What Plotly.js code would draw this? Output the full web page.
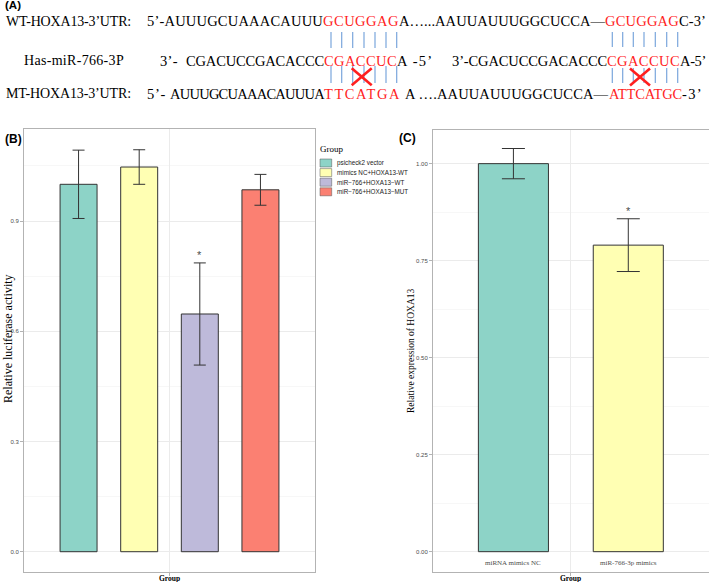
<!DOCTYPE html>
<html><head><meta charset="utf-8">
<script src="https://cdn.plot.ly/plotly-3.0.1.min.js"></script>
<style>html,body{margin:0;padding:0;background:#fff}#chart{width:709px;height:582px}</style>
</head><body><div id="chart"></div>
<script>
// ---------------- data ----------------
const groupsB = ["psicheck2 vector", "mimics NC+HOXA13-WT", "miR\u2212766+HOXA13\u2212WT", "miR\u2212766+HOXA13\u2212MUT"];
const valuesB = [1.000, 1.047, 0.647, 0.985];
const sdB     = [0.093, 0.047, 0.139, 0.042];
const sigB    = ["", "", "*", ""];
const tickValsB = [0, 0.3, 0.6, 0.9];
const tickTextB = ["0.0", "0.3", "0.6", "0.9"];
const minorValsB = [0.15, 0.45, 0.75, 1.05];

const groupsC = ["miRNA mimics NC", "miR-766-3p mimics"];
const valuesC = [1.000, 0.790];
const sdC     = [0.039, 0.068];
const sigC    = ["", "*"];
const tickValsC = [0, 0.25, 0.5, 0.75, 1.0];
const tickTextC = ["0.00", "0.25", "0.50", "0.75", "1.00"];
const minorValsC = [0.125, 0.375, 0.625, 0.875];

const xCategory = ["Group"];

// sequence panel text (segment text, colour key)
const seqLine1 = [["WT-HOXA13-3\u2019UTR:", "k"], ["5\u2019-AUUUGCUAAACAUUU", "k"], ["GCUGGAG", "r"], ["A\u2026...AAUUAUUUGGCUCCA\u2014", "k"], ["GCUGGAG", "r"], ["C-3\u2019", "k"]];
const seqLine2 = [["Has-miR-766-3P", "k"], ["3\u2019-", "k"], ["CGACUCCGACACCC", "k"], ["CGACCUC", "r"], ["A -5\u2019", "k"], ["3\u2019-CGACUCCGACACCC", "k"], ["CGACCUC", "r"], ["A-5\u2019", "k"]];
const seqLine3 = [["MT-HOXA13-3\u2019UTR:", "k"], ["5\u2019-", "k"], ["AUUUGCUAAACAUUUA", "k"], ["TTCATGA", "r"], ["A \u2026.AAUUAUUUGGCUCCA\u2014", "k"], ["ATTCATGC", "r"], ["-3\u2019", "k"]];

// ---------------- styles / layout ----------------
const W = 709, H = 582;
const px = x => x / W, py = y => 1 - y / H;
const barColors = ["#8dd3c7", "#ffffb3", "#bebada", "#fb8072"];
const BARGAP = 0, GROUPGAP = 0.39;
const frameCol = "#b3b3b3", gridCol = "#ebebeb", minorCol = "#f5f5f5", tickFontCol = "#4d4d4d";
const red = "#ff1f1f", blue = "#7aa6dc";

// segment geometry (left edge, right edge in px)
const seg1Pos = [[6, 131], [147, 323], [323, 399], [399, 605], [605, 679], [679, 706]];
const seg2Pos = [[24, 124], [160, 178], [186, 324], [324, 397], [397, 434], [452, 607], [607, 680], [680, 706]];
const seg3Pos = [[6, 131], [147, 166], [170, 324], [324, 401], [405, 609], [609, 682], [682, 703]];
const lineY = [21.4, 60.6, 93.7];

const traces = [];
groupsB.forEach((g, i) => {
  traces.push({
    type: "bar", name: g, x: xCategory, y: [valuesB[i]], xaxis: "x", yaxis: "y",
    marker: {color: barColors[i], line: {color: "#333333", width: 1}},
    error_y: {type: "data", array: [sdB[i]], visible: true, color: "#333333", thickness: 1, width: 6},
    showlegend: false, hoverinfo: "skip"
  });
});
groupsC.forEach((g, i) => {
  traces.push({
    type: "bar", name: g, x: xCategory, y: [valuesC[i]], xaxis: "x2", yaxis: "y2",
    marker: {color: barColors[i], line: {color: "#333333", width: 1}},
    error_y: {type: "data", array: [sdC[i]], visible: true, color: "#333333", thickness: 1, width: 11.5},
    showlegend: false, hoverinfo: "skip"
  });
});

const offsetFor = (i, n) => (i - (n - 1) / 2) * (1 - BARGAP) / n;

const annotations = [];
const shapes = [];

// measure text to fit segments
const cv = document.createElement("canvas").getContext("2d");
function fitted(text, size, target) {
  cv.font = size + "px 'Liberation Serif'";
  const w = cv.measureText(text).width;
  const ls = (target - w) / text.length;
  return '<span style="letter-spacing:' + ls.toFixed(2) + 'px">' + text + '</span>';
}
[[seqLine1, seg1Pos], [seqLine2, seg2Pos], [seqLine3, seg3Pos]].forEach(([segs, pos], li) => {
  segs.forEach(([t, c], si) => {
    const isLabel = si === 0;
    const size = isLabel ? 14 : 14.5;
    annotations.push({
      xref: "paper", yref: "paper", x: px(pos[si][0]), y: py(lineY[li]),
      xanchor: "left", yanchor: "middle", showarrow: false, borderpad: 0, borderwidth: 0,
      text: fitted(t, size, pos[si][1] - pos[si][0]),
      font: {family: "Liberation Serif", size: size, color: c === "r" ? red : "#000000"}
    });
  });
});

// pairing lines and crosses in panel A
const pairX1 = [331, 341.7, 352.7, 364, 375, 386, 396.7];
const pairX2 = [612.3, 622.7, 633.3, 644, 655.3, 666.7, 677.7];
[[pairX1, 32, 48, 66, 83], [pairX2, 32, 47, 68, 83]].forEach(([xs, a0, a1, b0, b1]) => {
  xs.forEach(x => {
    shapes.push({type: "line", xref: "paper", yref: "paper", x0: px(x), x1: px(x), y0: py(a0), y1: py(a1), line: {color: blue, width: 1.2}});
    shapes.push({type: "line", xref: "paper", yref: "paper", x0: px(x), x1: px(x), y0: py(b0), y1: py(b1), line: {color: blue, width: 1.2}});
  });
});
[[361.7, 76.7], [640, 77]].forEach(([cx, cy]) => {
  shapes.push({type: "line", xref: "paper", yref: "paper", x0: px(cx - 10), x1: px(cx + 10), y0: py(cy - 8.5), y1: py(cy + 8.5), line: {color: red, width: 2.6}});
  shapes.push({type: "line", xref: "paper", yref: "paper", x0: px(cx - 10), x1: px(cx + 10), y0: py(cy + 8.5), y1: py(cy - 8.5), line: {color: red, width: 2.6}});
});

// panel labels
annotations.push({xref: "paper", yref: "paper", x: px(3), y: py(5.5), xanchor: "left", yanchor: "middle", showarrow: false, text: "<b>(A)</b>", font: {family: "Liberation Sans", size: 11.5, color: "#000"}});
annotations.push({xref: "paper", yref: "paper", x: px(3), y: py(139), xanchor: "left", yanchor: "middle", showarrow: false, text: "<b>(B)</b>", font: {family: "Liberation Sans", size: 12, color: "#000"}});
annotations.push({xref: "paper", yref: "paper", x: px(397), y: py(138), xanchor: "left", yanchor: "middle", showarrow: false, text: "<b>(C)</b>", font: {family: "Liberation Sans", size: 12, color: "#000"}});

// axis titles
annotations.push({xref: "paper", yref: "paper", x: px(8), y: py(339), xanchor: "center", yanchor: "middle", textangle: -90, showarrow: false, text: "Relative luciferase activity", font: {family: "Liberation Serif", size: 12, color: "#000"}});
annotations.push({xref: "paper", yref: "paper", x: px(411), y: py(351), xanchor: "center", yanchor: "middle", textangle: -90, showarrow: false, text: "Relative expression of HOXA13", font: {family: "Liberation Serif", size: 9.5, color: "#000"}});
annotations.push({xref: "x", yref: "paper", x: 0, y: py(578), xanchor: "center", yanchor: "middle", showarrow: false, text: "<b>Group</b>", font: {family: "Liberation Serif", size: 7.5, color: "#000"}});
annotations.push({xref: "x2", yref: "paper", x: 0, y: py(578), xanchor: "center", yanchor: "middle", showarrow: false, text: "<b>Group</b>", font: {family: "Liberation Serif", size: 7.5, color: "#000"}});

// significance stars
sigB.forEach((s, i) => { if (s) annotations.push({xref: "x", yref: "y", x: offsetFor(i, groupsB.length), y: valuesB[i] + sdB[i], yanchor: "bottom", showarrow: false, text: s, font: {family: "Liberation Sans", size: 11, color: "#4d4d4d"}}); });
sigC.forEach((s, i) => { if (s) annotations.push({xref: "x2", yref: "y2", x: offsetFor(i, groupsC.length), y: valuesC[i] + sdC[i], yanchor: "bottom", showarrow: false, text: s, font: {family: "Liberation Sans", size: 11, color: "#4d4d4d"}}); });

// category labels under bars in C
groupsC.forEach((g, i) => annotations.push({xref: "x2", yref: "y2", x: offsetFor(i, groupsC.length), y: -0.029, yanchor: "middle", showarrow: false, text: g, font: {family: "Liberation Serif", size: 7, color: "#4d4d4d"}}));

// legend for B (drawn manually to match compact ggplot keys)
annotations.push({xref: "paper", yref: "paper", x: px(318), y: py(149), xanchor: "left", yanchor: "middle", showarrow: false, text: "Group", font: {family: "Liberation Serif", size: 9, color: "#000"}});
groupsB.forEach((g, i) => {
  const top = 159 + i * 9.6;
  shapes.push({type: "rect", xref: "paper", yref: "paper", x0: px(320), x1: px(331.7), y0: py(top), y1: py(top + 8), fillcolor: barColors[i], line: {color: "#555", width: 0.5}});
  annotations.push({xref: "paper", yref: "paper", x: px(334.5), y: py(top + 4), xanchor: "left", yanchor: "middle", showarrow: false, text: g, font: {family: "Liberation Sans", size: 6.3, color: "#1a1a1a"}});
});

const yAxisCommon = {
  showline: true, mirror: true, linecolor: frameCol, linewidth: 1,
  showgrid: true, gridcolor: gridCol, gridwidth: 1, zeroline: false,
  ticks: "outside", ticklen: 3, tickcolor: frameCol, tickwidth: 1,
  tickfont: {family: "Liberation Sans", size: 6, color: tickFontCol},
  tickmode: "array"
};
const xAxisCommon = {
  type: "category", showline: true, mirror: true, linecolor: frameCol, linewidth: 1,
  showgrid: true, gridcolor: gridCol, zeroline: false, range: [-0.6, 0.6],
  ticks: "outside", ticklen: 3, tickcolor: frameCol, showticklabels: false, fixedrange: true
};

const layout = {
  width: W, height: H, margin: {l: 0, r: 0, t: 0, b: 0},
  paper_bgcolor: "#ffffff", plot_bgcolor: "#ffffff",
  barmode: "group", bargap: BARGAP, bargroupgap: GROUPGAP,
  showlegend: false,
  xaxis: Object.assign({}, xAxisCommon, {domain: [px(24), px(315)], anchor: "y"}),
  yaxis: Object.assign({}, yAxisCommon, {domain: [py(571.7), py(129)], anchor: "x", range: [-0.0544, 1.1505],
    tickvals: tickValsB, ticktext: tickTextB,
    minor: {tickvals: minorValsB, showgrid: true, gridcolor: minorCol, gridwidth: 0.8, ticks: ""}}),
  xaxis2: Object.assign({}, xAxisCommon, {domain: [px(433), px(708.7)], anchor: "y2"}),
  yaxis2: Object.assign({}, yAxisCommon, {domain: [py(571.7), py(129.5)], anchor: "x2", range: [-0.0516, 1.088],
    tickvals: tickValsC, ticktext: tickTextC,
    minor: {tickvals: minorValsC, showgrid: true, gridcolor: minorCol, gridwidth: 0.8, ticks: ""}}),
  annotations: annotations,
  shapes: shapes
};

Plotly.newPlot("chart", traces, layout, {staticPlot: true, displayModeBar: false});
</script>
</body></html>
